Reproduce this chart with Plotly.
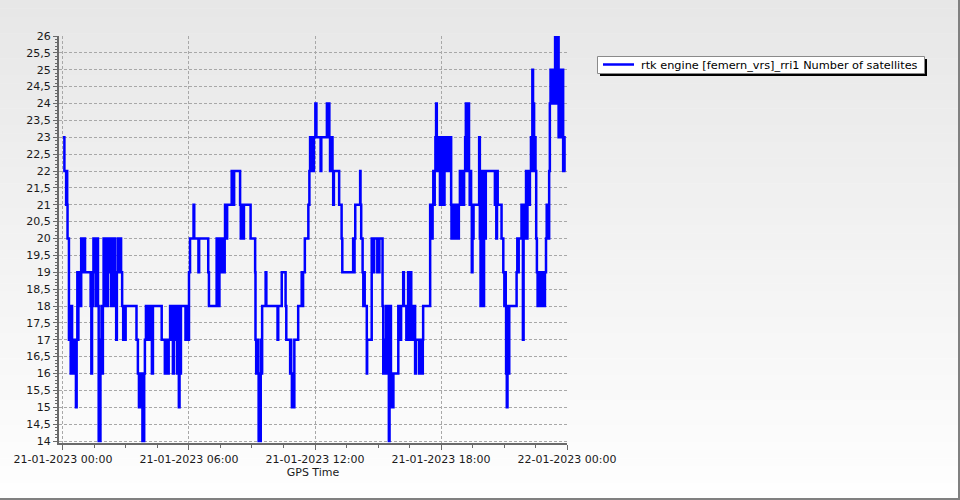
import pandas as pd
import plotly.graph_objects as go

# ---- data: change points (minutes after 21-01-2023 00:00) and satellite count ----
change_minute = [
    0, 4, 9, 11, 12, 13, 17, 20, 22, 24, 26, 28, 30, 33, 36, 37, 39, 41, 42, 44, 46, 47, 50, 52, 54, 56, 59, 61, 63,
    79, 81, 83, 85, 87, 89, 91, 93, 94, 96, 98, 100, 102, 104, 105, 107, 109, 110, 112, 114, 116, 118, 120, 122, 124,
    126, 128, 130, 131, 133, 135, 137, 139, 141, 143, 145, 147, 149, 152, 154, 157, 160, 163, 166, 169, 172, 174, 177,
    179, 210, 214, 217, 219, 221, 224, 227, 229, 231, 232, 234, 237, 240, 243, 246, 249, 254, 257, 282, 291, 293, 300,
    302, 306, 309, 311, 314, 317, 320, 323, 326, 329, 331, 333, 335, 337, 350, 352, 358, 360, 363, 373, 375, 387, 389,
    415, 417, 439, 441, 443, 445, 447, 449, 452, 454, 456, 459, 462, 463, 466, 469, 482, 484, 486, 488, 489, 506, 508,
    509, 511, 513, 515, 517, 536, 549, 550, 552, 554, 557, 559, 561, 563, 565, 568, 569, 579, 581, 613, 615, 625, 636,
    638, 649, 650, 652, 654, 657, 659, 661, 672, 682, 684, 686, 691, 701, 704, 706, 708, 709, 711, 713, 715, 717, 721,
    724, 736, 738, 754, 761, 763, 764, 766, 768, 770, 772, 774, 789, 796, 798, 829, 831, 833, 835, 849, 850, 852, 856,
    858, 860, 862, 868, 869, 882, 884, 886, 888, 889, 898, 900, 902, 904, 913, 915, 917, 920, 923, 925, 926, 929, 931,
    933, 935, 937, 939, 942, 944, 958, 960, 962, 964, 966, 972, 974, 981, 984, 986, 988, 989, 991, 993, 995, 997, 999,
    1006, 1008, 1017, 1019, 1021, 1023, 1025, 1028, 1029, 1049, 1051, 1052, 1054, 1056, 1058, 1060, 1062, 1064, 1066,
    1068, 1069, 1071, 1073, 1075, 1077, 1079, 1081, 1083, 1085, 1086, 1088, 1090, 1092, 1094, 1096, 1098, 1100, 1102,
    1104, 1106, 1109, 1110, 1112, 1114, 1116, 1118, 1120, 1123, 1126, 1129, 1131, 1134, 1136, 1138, 1140, 1142, 1144,
    1146, 1149, 1151, 1153, 1154, 1156, 1158, 1160, 1162, 1164, 1166, 1168, 1170, 1171, 1173, 1189, 1191, 1193, 1195,
    1197, 1199, 1201, 1203, 1206, 1208, 1234, 1236, 1238, 1240, 1242, 1253, 1258, 1261, 1263, 1265, 1266, 1268, 1270,
    1272, 1273, 1275, 1296, 1298, 1300, 1302, 1310, 1314, 1316, 1320, 1323, 1325, 1327, 1328, 1330, 1332, 1334, 1337,
    1339, 1341, 1343, 1345, 1346, 1348, 1350, 1352, 1354, 1356, 1358, 1360, 1362, 1364, 1366, 1368, 1369, 1371, 1373,
    1375, 1377, 1380, 1382, 1383, 1385, 1387, 1389, 1391, 1393, 1395, 1397, 1399, 1401, 1403, 1405, 1406, 1408, 1410,
    1412, 1414, 1416, 1418, 1420, 1422, 1424, 1426, 1428, 1429, 1431, 1433, 1436,
]
satellites = [
    23, 22, 21, 22, 21, 20, 17, 18, 16, 18, 16, 17, 16, 17, 16, 15, 17, 19, 17, 19, 18, 19, 18, 20, 19, 20, 19, 20, 19,
    18, 16, 18, 19, 20, 19, 20, 18, 20, 19, 20, 18, 14, 16, 14, 17, 16, 18, 16, 18, 20, 18, 20, 19, 20,
    18, 20, 19, 20, 19, 20, 18, 20, 19, 20, 18, 20, 19, 17, 19, 20, 19, 20, 19, 18, 17, 18, 17,
    18, 17, 16, 15, 16, 15, 16, 14, 15, 14, 16, 17, 18, 17, 18, 17, 18, 16, 18, 17, 16, 17, 16,
    17, 18, 17, 18, 16, 18, 17, 18, 16, 18, 15, 18, 16, 18, 17, 18, 17, 19, 20, 21, 20, 19, 20,
    19, 18, 20, 19, 20, 18, 20, 19, 20, 19, 20, 19, 20, 21, 20, 21, 22, 21, 22, 21, 22, 21, 20,
    21, 20, 21, 20, 21, 20, 19, 17, 16, 17, 16, 14, 16, 14, 17, 16, 18, 19, 18, 17, 18, 19, 18,
    17, 16, 17, 16, 15, 16, 15, 17, 18, 19, 18, 19, 20, 21, 22, 23, 22, 23, 22, 23, 22, 23, 24,
    23, 22, 23, 24, 23, 22, 23, 22, 23, 22, 21, 22, 21, 20, 19, 20, 19, 20, 21, 22, 21, 20, 19,
    18, 19, 18, 16, 17, 20, 19, 20, 19, 20, 19, 20, 19, 20, 18, 16, 17, 16, 18, 16, 18, 16, 14,
    16, 18, 15, 16, 15, 16, 18, 17, 18, 17, 18, 19, 18, 17, 18, 19, 18, 19, 17, 19, 18, 17, 18,
    16, 17, 16, 17, 16, 17, 16, 17, 18, 21, 20, 21, 20, 21, 22, 21, 22, 23, 24,
    23, 22, 23, 22, 23, 21, 22, 21, 23, 21, 22, 21, 23, 22, 23, 22, 23, 22, 23,
    22, 23, 21, 20, 21, 20, 21, 20, 21, 20, 21, 20, 21, 22, 21, 22, 21, 22, 21,
    22, 23, 24, 22, 24, 23, 24, 22, 21, 22, 21, 19, 21, 20, 21, 23, 20, 18, 22,
    18, 21, 18, 22, 20, 22, 21, 22, 20, 22, 21, 20, 19, 18, 19, 18, 16, 15, 16,
    18, 16, 18, 19, 20, 19, 20, 21, 17, 21, 20, 22, 20, 22, 21, 22, 21, 22, 23,
    22, 25, 23, 24, 22, 23, 22, 20, 19, 18, 19, 18, 19, 18, 19, 18, 19, 18, 19,
    18, 19, 20, 21, 20, 21, 20, 22, 24, 25, 24, 25, 24, 25, 24, 25, 26, 24, 26,
    24, 26, 23, 24, 23, 25, 23, 24, 25, 22, 23, 22, 22,
]

series_name = "rtk engine [femern_vrs]_rri1 Number of satellites"
x_title = "GPS Time"
x_tick_times = ["2023-01-21 00:00", "2023-01-21 06:00", "2023-01-21 12:00",
                "2023-01-21 18:00", "2023-01-22 00:00"]
x_tick_text = ["21-01-2023 00:00", "21-01-2023 06:00", "21-01-2023 12:00",
               "21-01-2023 18:00", "22-01-2023 00:00"]
y_tick_vals = [14, 14.5, 15, 15.5, 16, 16.5, 17, 17.5, 18, 18.5, 19, 19.5, 20,
               20.5, 21, 21.5, 22, 22.5, 23, 23.5, 24, 24.5, 25, 25.5, 26]
y_tick_text = ["14", "14,5", "15", "15,5", "16", "16,5", "17", "17,5", "18", "18,5",
               "19", "19,5", "20", "20,5", "21", "21,5", "22", "22,5", "23", "23,5",
               "24", "24,5", "25", "25,5", "26"]

base = pd.Timestamp("2023-01-21 00:00")
times = base + pd.to_timedelta(change_minute, unit="min")

# ---- layout geometry ----
W, H = 960, 500
L, R, T, B = 59, 393, 36, 57
pw, ph = W - L - R, H - T - B


def px_x(x):
    return (x - L) / pw


def px_y(y):
    return (H - B - y) / ph


FONT = "DejaVu Sans"
AXIS_COL = "#6a6a6a"
GRID_COL = "#a8a8a8"
LINE_COL = "#0000ff"

fig = go.Figure()
fig.add_trace(go.Scatter(
    x=times, y=satellites, mode="lines", name=series_name,
    line=dict(color=LINE_COL, width=2.5, shape="hv"),
    showlegend=False,
))

shapes = []
# vertical background gradient (light grey at top -> white at bottom)
N = 60
for i in range(N):
    y0 = i * H / N
    y1 = (i + 1) * H / N + 0.5
    t = i / (N - 1)
    c = int(round(231 + (254 - 231) * t))
    shapes.append(dict(type="rect", xref="paper", yref="paper",
                       x0=px_x(0), x1=px_x(W), y0=px_y(y1), y1=px_y(y0),
                       fillcolor=f"rgb({c},{c},{c})", line=dict(width=0), layer="below"))
# outer frame (right & bottom edge)
shapes.append(dict(type="line", xref="paper", yref="paper", x0=px_x(959), x1=px_x(959),
                   y0=px_y(0), y1=px_y(500), line=dict(color="#808080", width=2), layer="above"))
shapes.append(dict(type="line", xref="paper", yref="paper", x0=px_x(0), x1=px_x(960),
                   y0=px_y(499), y1=px_y(499), line=dict(color="#808080", width=2), layer="above"))
# legend: drop shadow, box and line sample
shapes.append(dict(type="rect", xref="paper", yref="paper",
                   x0=px_x(600), x1=px_x(927), y0=px_y(76), y1=px_y(59),
                   fillcolor="#000000", line=dict(width=0), layer="above"))
shapes.append(dict(type="rect", xref="paper", yref="paper",
                   x0=px_x(597.5), x1=px_x(924.5), y0=px_y(73.5), y1=px_y(56.5),
                   fillcolor="#ffffff", line=dict(color="#8a8a8a", width=1), layer="above"))
shapes.append(dict(type="line", xref="paper", yref="paper",
                   x0=px_x(603), x1=px_x(634), y0=px_y(64.5), y1=px_y(64.5),
                   line=dict(color=LINE_COL, width=2.5), layer="above"))

annotations = [dict(
    xref="paper", yref="paper", x=px_x(639), y=px_y(65), xanchor="left", yanchor="middle",
    text=series_name, showarrow=False,
    font=dict(family=FONT, size=11.3, color="#000000"),
)]

fig.update_layout(
    width=W, height=H,
    margin=dict(l=L, r=R, t=T, b=B, pad=0),
    paper_bgcolor="#ffffff",
    plot_bgcolor="rgba(0,0,0,0)",
    font=dict(family=FONT, size=11, color="#1a1a1a"),
    shapes=shapes,
    annotations=annotations,
    showlegend=False,
    xaxis=dict(
        type="date",
        range=[base - pd.Timedelta(minutes=11.4), pd.Timestamp("2023-01-22 00:00")],
        tickmode="array", tickvals=x_tick_times, ticktext=x_tick_text,
        showgrid=True, gridcolor=GRID_COL, griddash="3px,2px", gridwidth=1,
        showline=True, linecolor=AXIS_COL, linewidth=2,
        ticks="outside", ticklen=5, tickcolor=AXIS_COL, tickwidth=1,
        minor=dict(tickmode="linear", tick0="2023-01-21 00:00", dtick=5400000,
                   ticks="outside", ticklen=3, tickcolor=AXIS_COL, showgrid=False),
        title=dict(text=x_title, font=dict(family=FONT, size=11, color="#1a1a1a"), standoff=2),
        zeroline=False, fixedrange=True,
    ),
    yaxis=dict(
        range=[14 - 2 / 33.75, 26],
        tickmode="array", tickvals=y_tick_vals, ticktext=y_tick_text,
        showgrid=True, gridcolor=GRID_COL, griddash="3px,2px", gridwidth=1,
        showline=True, linecolor=AXIS_COL, linewidth=2,
        ticks="outside", ticklen=4, tickcolor=AXIS_COL, tickwidth=1,
        minor=dict(tickmode="linear", tick0=14, dtick=0.1,
                   ticks="outside", ticklen=2, tickcolor=AXIS_COL, showgrid=False),
        zeroline=False, fixedrange=True,
    ),
)

fig.write_html(
    "out.html",
    config={"displayModeBar": False},
    post_script="document.body.style.margin='0px';document.body.style.overflow='hidden';",
)
